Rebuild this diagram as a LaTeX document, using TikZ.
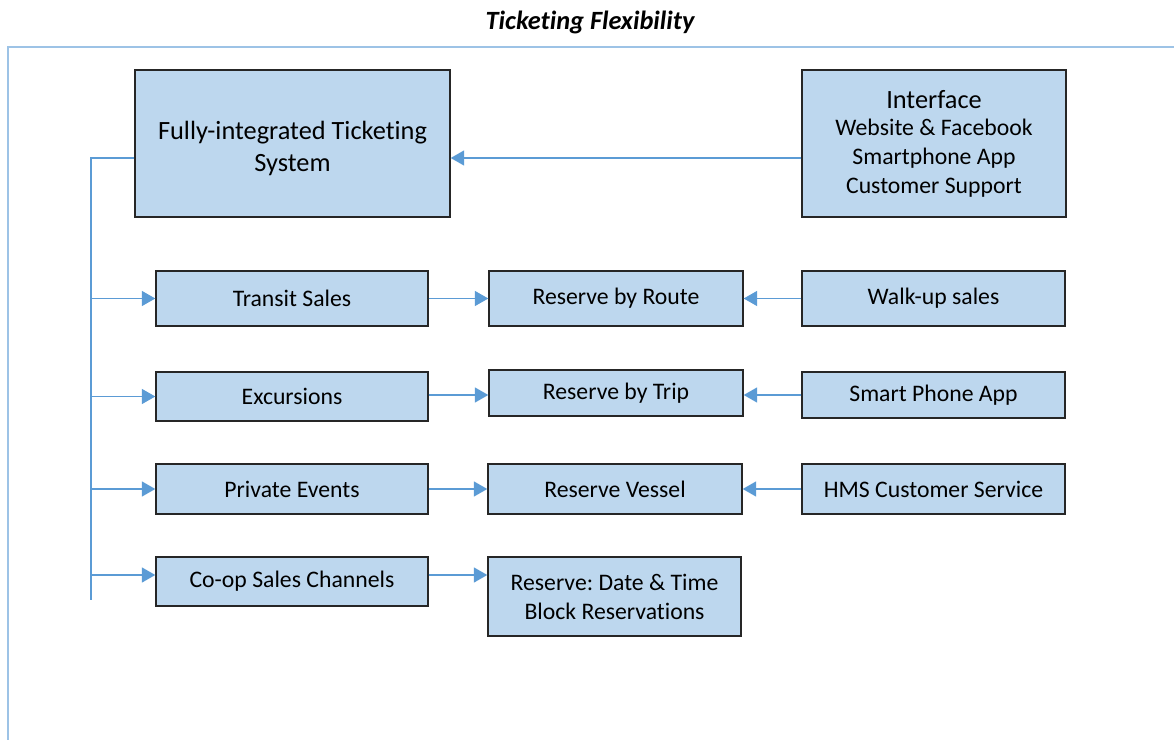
\documentclass[tikz,border=0pt]{standalone}
\usepackage{fontspec}
\setmainfont[Ligatures=NoCommon]{Carlito}
\usetikzlibrary{arrows.meta}
\definecolor{boxfill}{HTML}{BDD7EE}
\definecolor{linkblue}{HTML}{5B9BD5}
\definecolor{framblue}{HTML}{9DC3E6}
\newcommand{\smalltxt}{\fontsize{13.5}{16.5}\selectfont}
\newcommand{\bigtxt}{\fontsize{15}{18.2}\selectfont}
\frenchspacing
\tikzset{
  box/.style={draw=black!85,line width=0.8pt,fill=boxfill,align=center,inner sep=0pt,font=\smalltxt},
  link/.style={draw=linkblue,line width=0.9pt},
  arr/.style={link,-{Triangle[length=2.7mm,width=3mm]}}
}
\begin{document}
\begin{tikzpicture}[x=0.02cm,y=-0.02cm]
\useasboundingbox (0,0) rectangle (1174,740);
% frame and title
\draw [draw=framblue,line width=0.8pt] (8,740) -- (8,47) -- (1174,47);
\node (title) at (590,22) {\fontsize{15}{18}\selectfont\bfseries\itshape Ticketing Flexibility};
% top row
\node [box,minimum width=6.3cm,minimum height=2.94cm,
  label={[yshift=-0.1cm,align=center,font=\bigtxt]center:Fully-integrated Ticketing\\System}] (fits) at (292.5,143.5) {};
\node [box,minimum width=5.28cm,minimum height=2.94cm] (iface) at (934,143.5) {{\bigtxt Interface}\\[-1pt]Website \& Facebook\\Smartphone App\\Customer Support};
% sales channels
\node [box,minimum width=5.44cm,minimum height=1.1cm] (transit) at (292,298.5) {Transit Sales};
\node [box,minimum width=5.44cm,minimum height=0.98cm] (excur) at (292,396.5) {Excursions};
\node [box,minimum width=5.44cm,minimum height=1cm] (private) at (292,489) {Private Events};
\node [box,minimum width=5.44cm,minimum height=0.98cm] (coop) at (292,581.5) {Co-op Sales Channels};
% reservations
\node [box,minimum width=5.08cm,minimum height=1.1cm] (route) at (616,298.5) {Reserve by Route};
\node [box,minimum width=5.08cm,minimum height=0.92cm] (trip) at (616,393) {Reserve by Trip};
\node [box,minimum width=5.08cm,minimum height=1cm] (vessel) at (615,489) {Reserve Vessel};
\node [box,minimum width=5.06cm,minimum height=1.58cm] (block) at (614.5,596.5) {Reserve: Date \& Time\\Block Reservations};
% sources
\node [box,minimum width=5.26cm,minimum height=1.1cm] (walkup) at (933.5,298.5) {Walk-up sales};
\node [box,minimum width=5.26cm,minimum height=0.92cm] (phone) at (933.5,395) {Smart Phone App};
\node [box,minimum width=5.26cm,minimum height=1cm] (hms) at (933.5,489) {HMS Customer Service};
% connectors
\coordinate (bustop) at (91,158);
\coordinate (busend) at (91,600);
\coordinate (row4) at (91,575);
\draw [arr] (iface.west |- bustop) -- (fits.east |- bustop);
\draw [link] (fits.west |- bustop) -- (bustop) -- (busend);
\draw [arr] (bustop |- transit) -- (transit.west);
\draw [arr] (bustop |- excur) -- (excur.west);
\draw [arr] (bustop |- private) -- (private.west);
\draw [arr] (row4) -- (row4 -| coop.west);
\draw [arr] (transit.east) -- (route.west);
\draw [arr] (excur.east |- 0,395) -- (trip.west |- 0,395);
\draw [arr] (private.east) -- (vessel.west);
\draw [arr] (row4 -| coop.east) -- (row4 -| block.west);
\draw [arr] (walkup.west) -- (route.east);
\draw [arr] (phone.west) -- (phone.west -| trip.east);
\draw [arr] (hms.west) -- (vessel.east);
\end{tikzpicture}
\end{document}
